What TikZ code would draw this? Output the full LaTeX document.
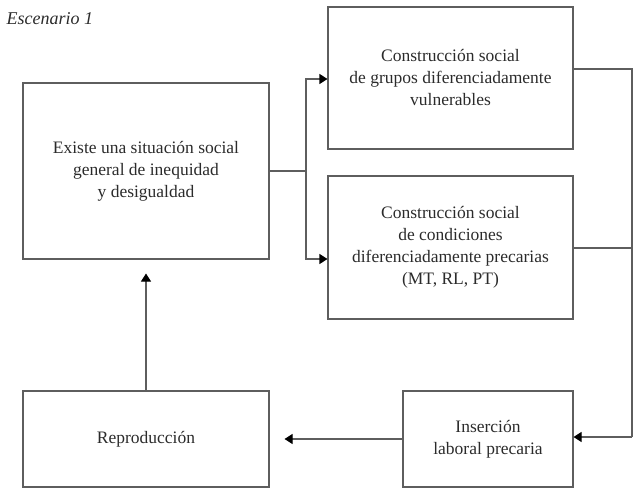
\documentclass[tikz,border=0pt]{standalone}
\usepackage{fontspec}
\setmainfont{Liberation Serif}
\usetikzlibrary{arrows.meta,calc}
\definecolor{linegray}{HTML}{5E5E5E}
\definecolor{textgray}{HTML}{2B2B2B}
\tikzset{
  box/.style={draw=linegray, line width=1.1pt, rectangle, align=center, inner sep=0pt,
    text=textgray, font=\fontsize{17.5}{22}\selectfont},
  conn/.style={draw=linegray, line width=1.1pt},
  arr/.style={conn, -{Triangle[length=8pt,width=10pt,fill=black,color=black]}}
}
\begin{document}
\begin{tikzpicture}[x=1pt,y=-1pt]
\useasboundingbox (0,0) rectangle (642,492);
\node[anchor=base west, text=textgray, font=\itshape\fontsize{18}{22}\selectfont] (title) at (3,25) {Escenario 1};
\node[box, minimum width=246pt, minimum height=176pt] (L) at (146,171)
  {Existe una situación social\\general de inequidad\\y desigualdad};
\node[box, minimum width=245pt, minimum height=142pt] (T) at (450.5,78)
  {Construcción social\\de grupos diferenciadamente\\vulnerables};
\node[box, minimum width=245pt, minimum height=143pt] (M) at (450.5,247.5)
  {Construcción social\\de condiciones\\diferenciadamente precarias\\(MT, RL, PT)};
\node[box, minimum width=246pt, minimum height=96pt] (R) at (146,439)
  {Reproducción};
\node[box, minimum width=170pt, minimum height=96pt] (I) at (488,439)
  {Inserción\\laboral precaria};
\coordinate (j) at (306,171);
\coordinate (r) at (632,437);
\draw[conn] (L.east |- j) -- (j);
\draw[arr] (j) |- (T.west |- 0,79);
\draw[arr] (j) |- (M.west |- 0,259);
\draw[conn] (T.east |- 0,69) -| (r);
\draw[conn] (M.east |- 0,248) -- (r |- 0,248);
\draw[arr] (r) -- (I.east |- r);
\draw[arr] (I.west) -- ($(R.east)+(15,0)$);
\draw[arr] (R.north) -- ($(L.south)+(0,14)$);
\end{tikzpicture}
\end{document}
